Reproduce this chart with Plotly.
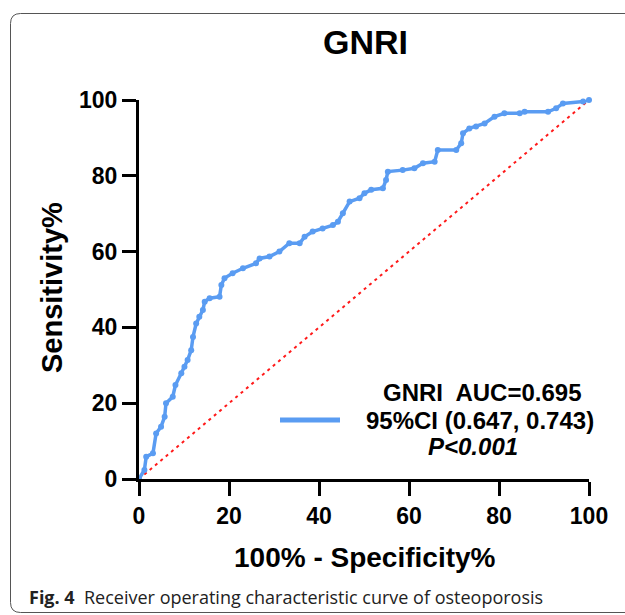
import plotly.graph_objects as go

# ROC curve points (100% - specificity, sensitivity)
fpr = [0, 1.2, 1.6, 3.1, 3.8, 4.9, 5.7, 6.0, 7.5, 8.1, 9.4, 10.1, 10.8, 11.6, 12.0, 12.7, 13.4, 14.2, 14.6, 15.7,
       17.9, 18.3, 19.0, 20.8, 23.1, 26.0, 26.8, 29.0, 31.2, 33.4, 35.7, 36.8, 38.6, 40.8, 43.1, 44.2, 45.3, 46.8, 49.0, 50.1,
       51.6, 54.2, 54.9, 55.3, 58.6, 61.2, 63.1, 65.7, 66.4, 70.5, 71.6, 72.0, 73.4, 74.9, 76.8, 79.0, 81.2, 84.6, 85.7, 90.9,
       92.7, 94.2, 98.7, 100]
tpr = [0, 2.4, 5.9, 6.8, 12, 13.8, 16.4, 20, 21.7, 24.8, 27.9, 29.6, 31.4, 34, 37.5, 41, 42.8, 44.6, 46.8, 47.7,
       48.1, 51.2, 53, 54.3, 55.6, 56.9, 58.2, 58.7, 60, 62.2, 62.2, 63.9, 65.3, 66.1, 67, 67.9, 70.1, 73.2, 74.1, 75.4,
       76.3, 76.7, 78.9, 81.1, 81.5, 82, 83.3, 83.7, 86.8, 86.8, 88.6, 91.2, 92.5, 93, 93.8, 95.6, 96.5, 96.5, 96.9, 96.9,
       97.8, 99.1, 99.6, 100]
ref_x = [0, 100]
ref_y = [0, 100]
tick_vals = [0, 20, 40, 60, 80, 100]

title_text = "GNRI"
x_title = "100% - Specificity%"
y_title = "Sensitivity%"
legend_lines = ["GNRI  AUC=0.695", "95%CI (0.647, 0.743)", "<i>P&lt;0.001</i>"]
caption = "<b>Fig. 4</b>  Receiver operating characteristic curve of osteoporosis"

W, H = 625, 615
L, R, T, B = 139, 36, 100, 136
PW, PH = W - L - R, H - T - B

def px(x):
    return (x - L) / PW

def py(y):
    return (H - B - y) / PH

BLUE = "#5A9CF2"
FONT = "Liberation Sans"

fig = go.Figure()
fig.add_trace(go.Scatter(x=ref_x, y=ref_y, mode="lines",
                         line=dict(color="#FF1A1A", width=2, dash="3px,4px"),
                         showlegend=False, cliponaxis=False, hoverinfo="skip"))
fig.add_trace(go.Scatter(x=fpr, y=tpr, mode="lines+markers",
                         line=dict(color=BLUE, width=3.5),
                         marker=dict(color=BLUE, size=6),
                         showlegend=False, cliponaxis=False))

axis_common = dict(range=[0, 100], tickvals=tick_vals, showgrid=False, zeroline=False,
                   showline=True, linecolor="black", linewidth=3,
                   ticks="outside", ticklen=14, tickwidth=3, tickcolor="black",
                   tickfont=dict(family=FONT, size=23, color="black", weight="bold"))

fig.update_layout(
    width=W, height=H,
    margin=dict(l=L, r=R, t=T, b=B),
    paper_bgcolor="white", plot_bgcolor="white",
    xaxis=dict(**axis_common),
    yaxis=dict(**axis_common),
    showlegend=False,
)

annotations = [
    dict(text=f"<b>{title_text}</b>", x=px(365), y=py(42), font=dict(family=FONT, size=34, color="black")),
    dict(text=f"<b>{x_title}</b>", x=px(365), y=py(557), font=dict(family=FONT, size=28, color="black")),
    dict(text=f"<b>{y_title}</b>", x=px(52), y=py(288), textangle=-90, font=dict(family=FONT, size=29, color="black")),
    dict(text=f"<b>{legend_lines[0]}</b>", x=px(482), y=py(392), font=dict(family=FONT, size=24, color="black")),
    dict(text=f"<b>{legend_lines[1]}</b>", x=px(480), y=py(420), font=dict(family=FONT, size=24, color="black")),
    dict(text=f"<b>{legend_lines[2]}</b>", x=px(473), y=py(446), font=dict(family=FONT, size=24, color="black")),
    dict(text=caption, x=px(27), y=py(597), xanchor="left", font=dict(family="Open Sans", size=18, color="#222222")),
]
for a in annotations:
    a.setdefault("xanchor", "center")
    a.update(xref="paper", yref="paper", yanchor="middle", showarrow=False)
    fig.add_annotation(**a)

# legend line sample
fig.add_shape(type="line", xref="paper", yref="paper", x0=px(280), x1=px(340), y0=py(420), y1=py(420),
              line=dict(color=BLUE, width=5))

# panel frame (rounded left corners, continues beyond right/bottom edges)
r = 10
x0, y0, x1, y1 = 10.5, 13.5, 640, 612.5
path = (f"M {px(x1)},{py(y0)} L {px(x0 + r)},{py(y0)} Q {px(x0)},{py(y0)} {px(x0)},{py(y0 + r)} "
        f"L {px(x0)},{py(y1 - r)} Q {px(x0)},{py(y1)} {px(x0 + r)},{py(y1)} L {px(x1)},{py(y1)}")
fig.add_shape(type="path", xref="paper", yref="paper", path=path, line=dict(color="#555555", width=1))

fig.write_html("out.html")
